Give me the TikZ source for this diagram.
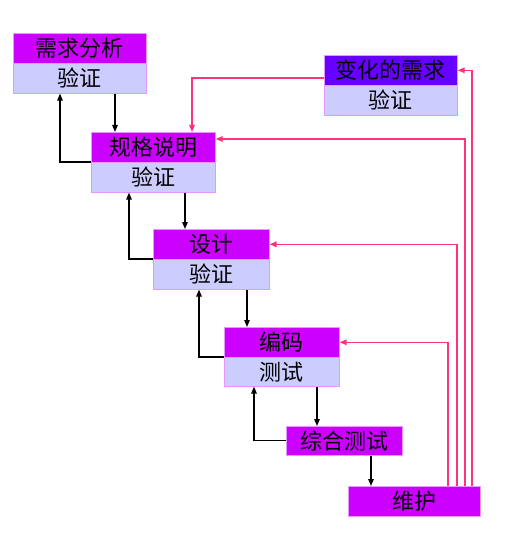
\documentclass[tikz,border=0pt]{standalone}
\usepackage{fontspec}
\usepackage{tikz}
\usetikzlibrary{arrows.meta, positioning, calc}
\newfontfamily\cjk{Noto Sans CJK SC}
\definecolor{mypurple}{RGB}{204,0,255}
\definecolor{myviolet}{RGB}{102,0,255}
\definecolor{mylav}{RGB}{204,204,255}
\definecolor{myedge}{RGB}{230,150,255}
\definecolor{mypink}{RGB}{255,51,119}
\tikzset{
  hdr/.style={rectangle, draw=myedge, fill=mypurple, anchor=north west,
    minimum height=30pt, inner sep=0pt, line width=0.6pt,
    font=\cjk\fontsize{22}{22}\selectfont},
  chk/.style={hdr, fill=mylav},
  arrow/.style={-{Triangle[length=7pt,width=5.5pt]}, line width=1.3pt, color=black},
  pinkarrow/.style={-{Triangle[length=7pt,width=5.5pt]}, line width=1.4pt, color=mypink}
}
\begin{document}
\begin{tikzpicture}[x=1pt, y=-1pt]
  \useasboundingbox (0,0) rectangle (526,556);
  % stages
  \node[hdr, minimum width=133pt] (req) at (13,33) {需求分析};
  \node[chk, minimum width=133pt] (reqv) at (13,63) {验证};
  \node[hdr, fill=myviolet, minimum width=133pt] (chg) at (324,55) {变化的需求};
  \node[chk, minimum width=133pt] (chgv) at (324,85) {验证};
  \node[hdr, minimum width=124pt] (spec) at (91,132) {规格说明};
  \node[chk, minimum width=124pt] (specv) at (91,162) {验证};
  \node[hdr, minimum width=116pt] (des) at (153,229) {设计};
  \node[chk, minimum width=116pt] (desv) at (153,259) {验证};
  \node[hdr, minimum width=115pt] (code) at (224,327) {编码};
  \node[chk, minimum width=115pt, minimum height=29pt] (codev) at (224,357) {测试};
  \node[hdr, minimum width=116pt, minimum height=29pt] (integ) at (286,426) {综合测试};
  \node[hdr, minimum width=132pt] (maint) at (348,486) {维护};
  % forward flow
  \draw[arrow] (reqv.south -| 115,0) -- (spec.north -| 115,0);
  \draw[arrow] (specv.south -| 185,0) -- (des.north -| 185,0);
  \draw[arrow] (desv.south -| 247,0) -- (code.north -| 247,0);
  \draw[arrow] (codev.south -| 317,0) -- (integ.north -| 317,0);
  \draw[arrow] (integ.south -| 371,0) -- (maint.north -| 371,0);
  % feedback
  \draw[arrow] (specv.north west) -| (reqv.south -| 60,0);
  \draw[arrow] (desv.north west) -| (specv.south -| 129,0);
  \draw[arrow] (codev.north west) -| (desv.south -| 199,0);
  \draw[arrow] (integ.west) -| (codev.south -| 254,0);
  % maintenance
  \draw[pinkarrow] (chg.west |- 0,78) -| (spec.north -| 192,0);
  \draw[pinkarrow] (maint.north -| 472,0) |- (chg.east);
  \draw[pinkarrow] (maint.north -| 465,0) |- (spec.east |- 0,139);
  \draw[pinkarrow] (maint.north -| 457,0) |- (des.east);
  \draw[pinkarrow] (maint.north -| 448,0) |- (code.east);
\end{tikzpicture}
\end{document}
